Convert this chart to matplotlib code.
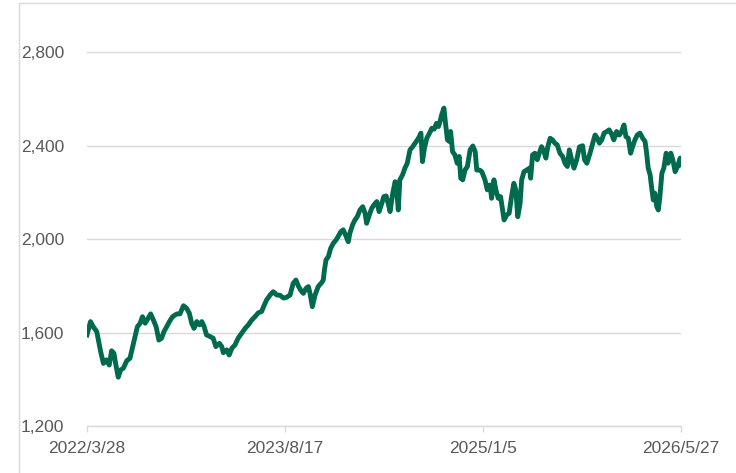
import datetime as dt
import matplotlib
matplotlib.use('Agg')
import matplotlib.pyplot as plt
import matplotlib.dates as mdates
from matplotlib.patches import Rectangle

# days after 2022/3/28 and index level
days = [0, 9, 16, 25, 35, 42, 50, 57, 63, 69, 74, 80, 86, 93, 102, 110, 117, 123, 129, 136,
        142, 149, 155, 163, 170, 177, 184, 191, 197, 204, 211, 219, 230, 238, 247,
        255, 262, 268, 274, 281, 288, 294, 300, 306, 315, 323, 330, 339, 345, 349,
        358, 364, 371, 379, 387, 396, 405, 413, 422, 430, 439, 447, 453, 460, 469,
        477, 486, 494, 503,
        511, 520, 528, 535, 541, 547, 554, 561, 567, 571, 577, 584, 592, 601, 605,
        608, 612, 618, 624, 631, 638, 643, 650, 656, 662, 669, 673, 680, 686, 692,
        699, 706, 712, 716, 723, 729, 735, 742, 748, 755, 760,
        766, 772, 776, 783, 789, 793, 797, 801, 808, 814, 820, 827, 834, 840, 846,
        851, 855, 859, 864, 870, 877, 883, 889, 895, 900, 904, 908, 914, 918, 923,
        928, 931, 936, 942, 948, 953, 957, 962, 968, 974, 981, 988, 994, 998, 1005, 1011,
        1019, 1025, 1032, 1036, 1042, 1047, 1053, 1059, 1064, 1068, 1075, 1081, 1087,
        1093, 1098, 1103, 1109, 1113, 1119, 1126, 1133, 1136, 1141, 1147, 1153, 1158,
        1164, 1170, 1175, 1180, 1186, 1192, 1198, 1204, 1211, 1218, 1224, 1230, 1235,
        1241, 1247, 1254, 1261, 1269, 1274,
        1280, 1288, 1295, 1301, 1307, 1312, 1318, 1324, 1331, 1337, 1343, 1349, 1356,
        1363, 1369, 1375, 1380, 1386, 1392, 1397, 1403, 1409, 1416, 1423, 1429, 1433,
        1437, 1442, 1446, 1450, 1454, 1459, 1463, 1467, 1472, 1477, 1483, 1488, 1495,
        1500, 1506, 1512, 1519, 1521]
values = [1590, 1647, 1625, 1604, 1518, 1468, 1483, 1461, 1522, 1511, 1461, 1409, 1440, 1447, 1480, 1490, 1540, 1582, 1625, 1640,
          1668, 1640, 1657, 1680, 1654, 1625, 1568, 1576, 1604, 1625, 1647, 1668, 1680, 1680, 1715,
          1704, 1683, 1640, 1618, 1647, 1633, 1647, 1625, 1590, 1583, 1576, 1540, 1554, 1540, 1514,
          1526, 1504, 1533, 1547, 1576, 1597, 1618, 1633, 1654, 1668, 1685, 1690, 1714, 1740, 1761,
          1775, 1761, 1760, 1748,
          1751, 1761, 1811, 1825, 1800, 1782, 1768, 1790, 1797, 1768, 1711, 1761, 1797, 1814, 1825,
          1868, 1911, 1925, 1961, 1983, 1997, 2011, 2032, 2040, 2018, 1989, 2025, 2061, 2082, 2096,
          2125, 2139, 2111, 2068, 2104, 2132, 2147, 2161, 2118, 2154, 2182,
          2185, 2147, 2118, 2197, 2246, 2211, 2125, 2254, 2275, 2304, 2325, 2382, 2396, 2411, 2425,
          2439, 2454, 2332, 2389, 2432, 2454, 2475, 2471, 2496, 2482, 2504, 2532, 2561, 2496, 2425,
          2418, 2461, 2375, 2361, 2325, 2354, 2261, 2254, 2296, 2311, 2382, 2399, 2375, 2296, 2296, 2289,
          2254, 2211, 2232, 2175, 2254, 2211, 2175, 2182, 2125, 2082, 2104, 2111, 2182,
          2239, 2211, 2096, 2154, 2254, 2289, 2296, 2304, 2261, 2361, 2368, 2340, 2368,
          2396, 2375, 2347, 2396, 2432, 2425, 2411, 2404, 2368, 2354, 2325, 2311, 2382,
          2340, 2304, 2340, 2395, 2400, 2340,
          2325, 2368, 2411, 2446, 2432, 2411, 2425, 2454, 2461, 2468, 2451, 2425, 2461,
          2446, 2461, 2489, 2439, 2432, 2368, 2396, 2425, 2446, 2454, 2432, 2418, 2368,
          2304, 2275, 2218, 2168, 2197, 2139, 2125, 2182, 2282, 2304, 2368, 2325, 2368,
          2340, 2289, 2311, 2347, 2318]

start = dt.date(2022, 3, 28)
end = dt.date(2026, 5, 27)
tick_dates = [dt.date(2022, 3, 28), dt.date(2023, 8, 17), dt.date(2025, 1, 5), dt.date(2026, 5, 27)]
tick_labels = ['2022/3/28', '2023/8/17', '2025/1/5', '2026/5/27']
y_ticks = [1200, 1600, 2000, 2400, 2800]

dates = [start + dt.timedelta(days=d) for d in days]

plt.rcParams['font.family'] = ['Liberation Sans', 'DejaVu Sans']

fig = plt.figure(figsize=(7.36, 4.73), dpi=100)
ax = fig.add_axes([87 / 736, 1 - 426 / 473, 594 / 736, 420.4 / 473])

# chart area border (only left and top edges are inside the picture)
fig.add_artist(Rectangle((18.5 / 736, -0.2), 1.2, 1 - 3.3 / 473 + 0.2, transform=fig.transFigure,
                         fill=False, edgecolor='#d9d9d9', lw=1.0))

ax.plot(dates, values, color='#006a4e', lw=3.5, solid_joinstyle='round', zorder=3)

ax.set_xlim(start, end)
ax.set_ylim(1200, 3000)
ax.set_yticks(y_ticks)
ax.set_yticklabels([f'{v:,}' for v in y_ticks])
ax.set_xticks([mdates.date2num(d) for d in tick_dates])
ax.set_xticklabels(tick_labels)

ax.grid(axis='y', color='#d9d9d9', lw=1.0)
ax.set_axisbelow(True)
for s in ['top', 'right', 'left']:
    ax.spines[s].set_visible(False)
ax.spines['bottom'].set_color('#d9d9d9')
ax.spines['bottom'].set_linewidth(1.0)

ax.tick_params(axis='y', length=0, pad=16.5, labelsize=12.5, labelcolor='#595959')
ax.tick_params(axis='x', length=4.5, width=1.0, color='#d9d9d9', pad=6,
               labelsize=12.5, labelcolor='#595959')

fig.savefig('out.png', dpi=100)
